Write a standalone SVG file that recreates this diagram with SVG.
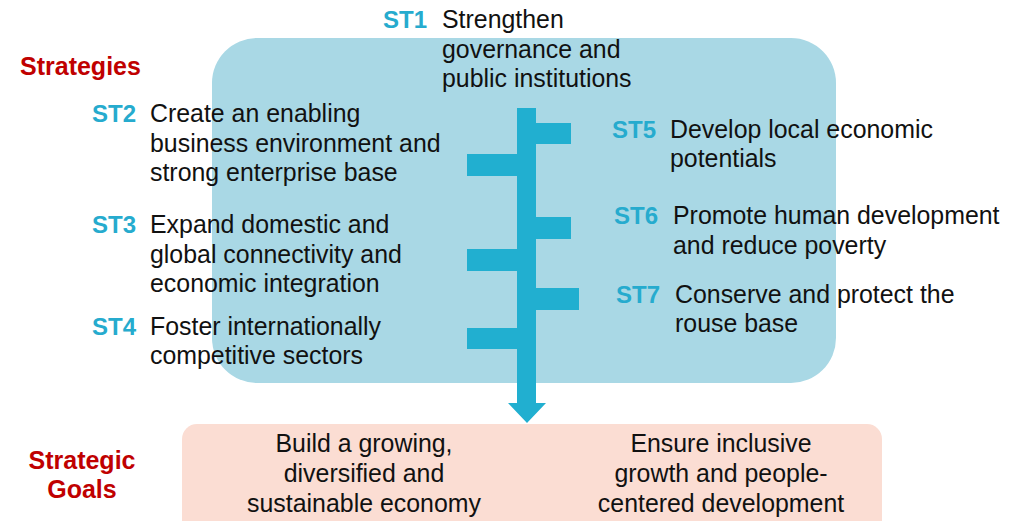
<svg xmlns="http://www.w3.org/2000/svg" width="1022" height="521" viewBox="0 0 1022 521">
<style>
text{font-family:"Liberation Sans",Arial,sans-serif;font-size:24.9px;fill:#111}
.st{font-weight:bold;fill:#26ABCE;font-size:24px}
.red{font-weight:bold;fill:#C00000;font-size:25px}
.bar{fill:#21AFD0}
.mid{text-anchor:middle}
</style>
<rect x="0" y="0" width="1022" height="521" fill="#fff"/>
<g id="strategies-box"><rect x="212" y="38" width="624" height="345" rx="45" fill="#A9D8E5"/></g>
<g id="goals-box"><rect x="182" y="424" width="700" height="112" rx="15" fill="#FBDDD3"/></g>
<g id="connectors">
<polygon class="bar" points="517,108 536,108 536,403 546,403 527,423 508,403 517,403"/>
<rect class="bar" x="536" y="123" width="35" height="21"/>
<rect class="bar" x="536" y="217" width="35" height="22"/>
<rect class="bar" x="536" y="288" width="43" height="22"/>
<rect class="bar" x="467" y="154" width="50" height="22"/>
<rect class="bar" x="467" y="249" width="50" height="22"/>
<rect class="bar" x="467" y="328" width="50" height="21"/>
</g>
<g id="label-strategies"><text class="red" x="20" y="75">Strategies</text></g>
<g id="label-goals"><text class="red mid" x="82" y="469">Strategic</text><text class="red mid" x="82" y="498">Goals</text></g>
<g id="st1"><text class="st" x="383" y="28">ST1</text><text x="442" y="28">Strengthen</text><text x="442" y="57.5">governance and</text><text x="442" y="87">public institutions</text></g>
<g id="st2"><text class="st" x="92" y="122">ST2</text><text x="150" y="122">Create an enabling</text><text x="150" y="152">business environment and</text><text x="150" y="181">strong enterprise base</text></g>
<g id="st3"><text class="st" x="92" y="233">ST3</text><text x="150" y="233">Expand domestic and</text><text x="150" y="263">global connectivity and</text><text x="150" y="292">economic integration</text></g>
<g id="st4"><text class="st" x="92" y="335">ST4</text><text x="150" y="335">Foster internationally</text><text x="150" y="364">competitive sectors</text></g>
<g id="st5"><text class="st" x="612" y="138">ST5</text><text x="670" y="138">Develop local economic</text><text x="670" y="167">potentials</text></g>
<g id="st6"><text class="st" x="614" y="224">ST6</text><text x="673" y="224">Promote human development</text><text x="673" y="254">and reduce poverty</text></g>
<g id="st7"><text class="st" x="616" y="303">ST7</text><text x="675" y="303">Conserve and protect the</text><text x="675" y="332">rouse base</text></g>
<g id="goal1"><text class="mid" x="364" y="452">Build a growing,</text><text class="mid" x="364" y="482">diversified and</text><text class="mid" x="364" y="512">sustainable economy</text></g>
<g id="goal2"><text class="mid" x="721" y="452">Ensure inclusive</text><text class="mid" x="721" y="482">growth and people-</text><text class="mid" x="721" y="512">centered development</text></g>
</svg>
